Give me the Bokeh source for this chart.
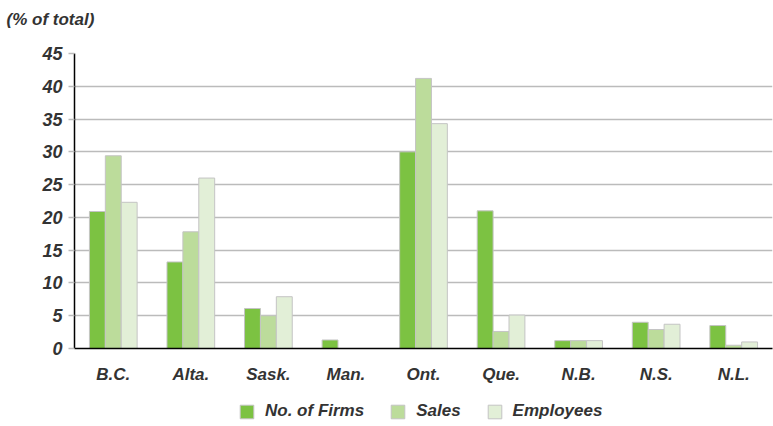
from bokeh.plotting import figure
from bokeh.models import FactorRange, Range1d, ColumnDataSource, Legend, LegendItem, FixedTicker
from bokeh.layouts import column
from bokeh.transform import dodge
from bokeh.embed import file_html
from bokeh.resources import INLINE

provinces = ["B.C.", "Alta.", "Sask.", "Man.", "Ont.", "Que.", "N.B.", "N.S.", "N.L."]
firms = [20.9, 13.2, 6.1, 1.3, 30.0, 21.0, 1.2, 4.0, 3.5]
sales = [29.4, 17.8, 5.0, 0.0, 41.2, 2.6, 1.2, 2.9, 0.5]
employees = [22.3, 26.0, 7.9, 0.0, 34.3, 5.1, 1.2, 3.7, 1.0]
series_names = ["No. of Firms", "Sales", "Employees"]
y_ticks = [0, 5, 10, 15, 20, 25, 30, 35, 40, 45]
title_text = "(% of total)"

FONT = "Liberation Sans"
TXT = "#333333"
GRID = "#bbbbbb"
colors = ["#7cc242", "#bcdc9b", "#e2efd7"]
OUTLINE = "#c4c4c4"

src = ColumnDataSource(dict(prov=provinces, firms=firms, sales=sales, employees=employees))

# caption strip on top
p0 = figure(width=773, height=36, output_backend="svg", toolbar_location=None,
            x_range=Range1d(0, 1), y_range=Range1d(0, 1),
            x_axis_location=None, y_axis_location=None,
            min_border_left=74, min_border_right=1, min_border_top=0, min_border_bottom=0)
p0.grid.visible = False
p0.outline_line_color = None
p0.title.text = title_text
p0.title.text_font = FONT
p0.title.text_font_style = "bold italic"
p0.title.text_font_size = "17px"
p0.title.text_color = TXT
p0.title.align = "left"
p0.title.offset = -68
p0.title.standoff = 14

p = figure(x_range=FactorRange(*provinces, range_padding=0), y_range=Range1d(0, 45),
           width=773, height=352, output_backend="svg", toolbar_location=None,
           min_border_left=74, min_border_right=1, min_border_top=17, min_border_bottom=40)

fields = ["firms", "sales", "employees"]
offsets = [-0.205, 0.0, 0.205]
for f, c, o in zip(fields, colors, offsets):
    p.vbar(x=dodge("prov", o, range=p.x_range), top=f, width=0.205, source=src,
           fill_color=c, line_color=OUTLINE, line_width=1)

p.outline_line_color = None
p.xgrid.grid_line_color = None
p.ygrid.grid_line_color = GRID
p.ygrid.grid_line_width = 1.5

p.yaxis.ticker = FixedTicker(ticks=y_ticks)
p.yaxis.minor_tick_line_color = None
p.yaxis.major_tick_in = 0
p.yaxis.major_tick_out = 6
p.yaxis.major_tick_line_color = GRID
p.yaxis.major_tick_line_width = 1.5
p.yaxis.axis_line_color = "black"
p.yaxis.axis_line_width = 1.5
p.yaxis.major_label_standoff = 6

p.xaxis.axis_line_color = "black"
p.xaxis.axis_line_width = 1.5
p.xaxis.major_tick_line_color = None
p.xaxis.minor_tick_line_color = None
p.xaxis.major_label_standoff = 10

for ax, sz in ((p.xaxis, "17px"), (p.yaxis, "18px")):
    ax.major_label_text_font = FONT
    ax.major_label_text_font_style = "bold italic"
    ax.major_label_text_font_size = sz
    ax.major_label_text_color = TXT

# legend strip below the chart (hidden proxy renderers carry the legend swatches)
p2 = figure(width=773, height=38, output_backend="svg", toolbar_location=None,
            x_range=Range1d(0, 1), y_range=Range1d(0, 1),
            x_axis_location=None, y_axis_location=None,
            min_border_left=0, min_border_right=0, min_border_top=0, min_border_bottom=0)
p2.grid.visible = False
p2.outline_line_color = None
legend_rs = []
for f, c in zip(fields, colors):
    r = p2.vbar(x=f, top=f, width=1, source=src, fill_color=c, line_color=OUTLINE,
                line_width=1, visible=False)
    legend_rs.append(r)

legend = Legend(items=[LegendItem(label=n, renderers=[r]) for n, r in zip(series_names, legend_rs)],
                orientation="horizontal", location=(164, 5),
                label_text_font=FONT, label_text_font_style="bold italic",
                label_text_font_size="17px", label_text_color=TXT,
                glyph_width=17, glyph_height=17, label_standoff=10, spacing=25,
                padding=0, margin=0, border_line_color=None, background_fill_alpha=0)
p2.add_layout(legend, "center")

layout = column(p0, p, p2, spacing=0)
open("out.html", "w").write(file_html(layout, INLINE))
